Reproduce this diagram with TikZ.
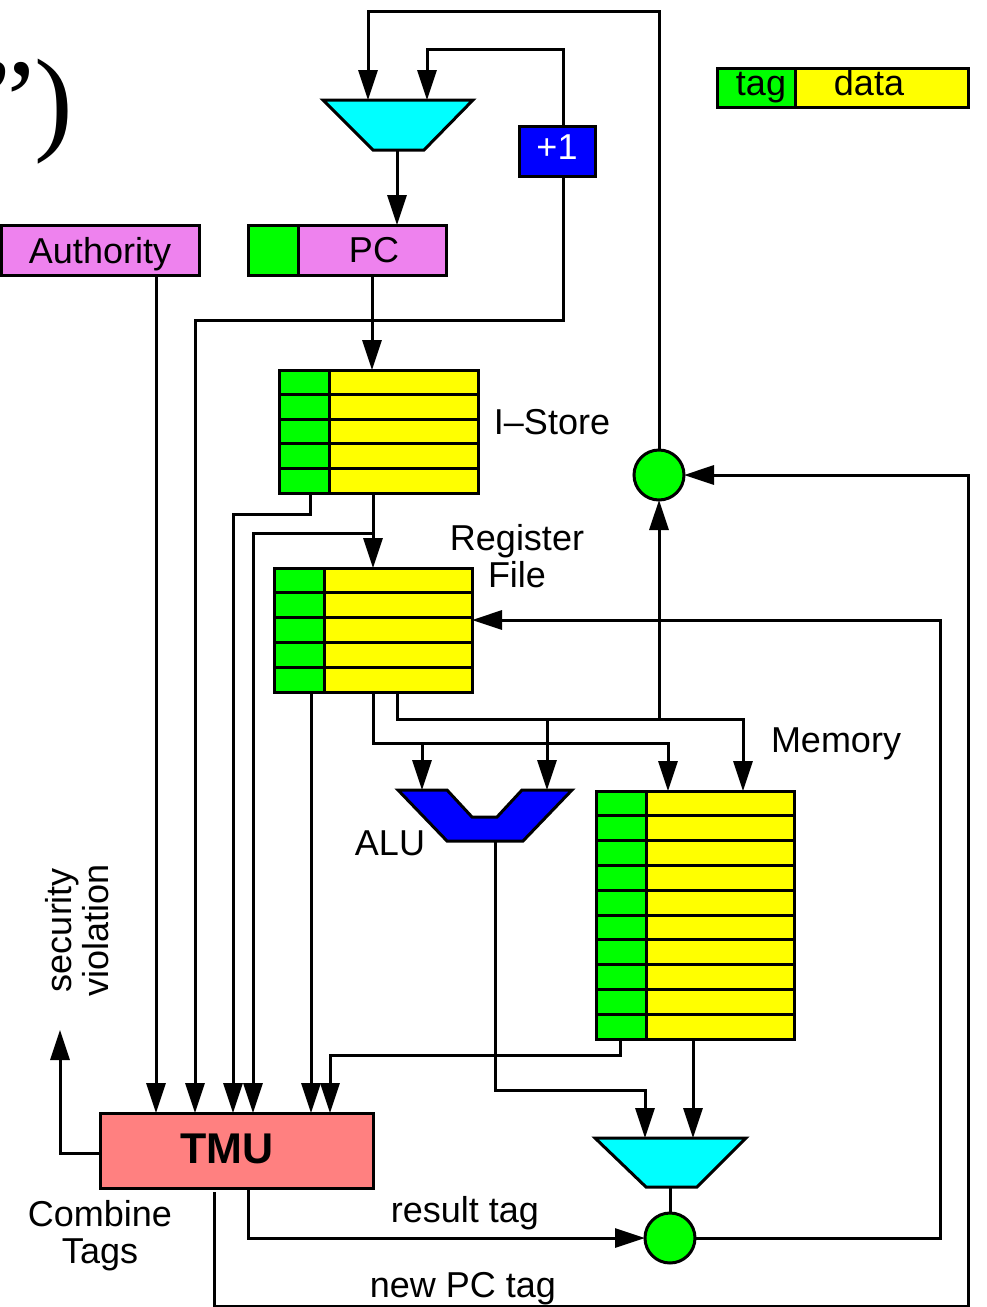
\documentclass[tikz,border=0pt]{standalone}
\usepackage{fontspec}
\setmainfont{Liberation Sans}
\newfontfamily\seriffont{Liberation Serif}
\usetikzlibrary{arrows.meta,calc}
\definecolor{tgreen}{RGB}{0,255,0}
\definecolor{tyellow}{RGB}{255,255,0}
\definecolor{tcyan}{RGB}{0,255,255}
\definecolor{tblue}{RGB}{0,0,255}
\definecolor{tviolet}{RGB}{238,130,238}
\definecolor{tsalmon}{RGB}{255,128,128}
\newcommand{\regarray}[7]{%
  \node[box,fill=tyellow,wh={#4}{#5},anchor=north west] (#1) at (#2,#3) {};
  \node[box,fill=tgreen,wh={#6}{#5},anchor=north west] (#1tag) at (#2,#3) {};
  \foreach \k in {1,...,#7}{\draw[wire] (#2,{#3+\k*#5/(#7+1)}) -- ++(#4,0);}
}
\begin{document}
\begin{tikzpicture}[x=0.5pt,y=-0.5pt,
  wire/.style={line width=1.5pt},
  arr/.style={wire,-{Triangle[length=15pt,width=9.5pt]}},
  box/.style={draw,line width=1.5pt,inner sep=0pt,outer sep=0pt},
  wh/.style 2 args={minimum width=#1*0.5pt,minimum height=#2*0.5pt},
  lbl/.style={font=\fontsize{18}{18.5}\selectfont,inner sep=0pt},
  blbl/.style={lbl,anchor=base},
  dot/.style={circle,draw,line width=1.5pt,fill=tgreen,minimum size=25pt,inner sep=0pt,outer sep=0pt},
]
\useasboundingbox (0,0) rectangle (986,1307);
\clip (0,0) rectangle (986,1307);

% big quote fragment
\node[font=\seriffont\fontsize{58}{60}\selectfont,anchor=base east,inner sep=0pt] (quote) at (74,139) {”)};

% legend
\node[box,fill=tgreen,wh={78}{39},anchor=north west] (ltag) at (717,68) {};
\node[box,fill=tyellow,wh={173}{39},anchor=north west] (ldata) at (795,68) {};
\node[blbl] (ltagtxt) at (761,95) {tag};
\node[blbl] (ldatatxt) at (869,95) {data};

% boxes
\node[box,fill=tviolet,wh={198}{50},anchor=north west] (auth) at (1,225) {};
\node[blbl] (authtxt) at (100,263) {Authority};
\node[box,fill=tgreen,wh={50}{50},anchor=north west] (pctag) at (248,225) {};
\node[box,fill=tviolet,wh={148}{50},anchor=north west] (pc) at (298,225) {};
\node[blbl] (pctxt) at (374,262) {PC};
\node[box,fill=tblue,wh={76}{50},anchor=north west] (inc) at (519,126) {};
\node[blbl,text=white] (inctxt) at (557,159) {+1};
\node[box,fill=tsalmon,wh={273}{75},anchor=north west] (tmu) at (100,1113) {};
\node[anchor=base,inner sep=0pt,font=\bfseries\fontsize{21.5}{22}\selectfont] (tmutxt) at (227,1163) {TMU};

\regarray{istore}{279}{370}{199}{123}{50}{4}
\regarray{regf}{274}{568}{198}{124}{50}{4}
\regarray{mem}{596}{791}{198}{248}{50}{9}

% muxes and ALU
\draw[line width=1.5pt,fill=tcyan] (323,100) -- (473,100) -- (424,150) -- (373,150) -- cycle;
\draw[line width=1.5pt,fill=tcyan] (595,1138) -- (746,1138) -- (697,1187) -- (646,1187) -- cycle;
\draw[line width=1.5pt,fill=tblue] (398,790) -- (447,790) -- (472,817) -- (497,817) -- (522,790) -- (572,790) -- (523,841) -- (447,841) -- cycle;

\node[dot] (c1) at (659,475) {};
\node[dot] (c2) at (670,1238) {};

% ports
\coordinate (muxAin1) at (368,100);
\coordinate (muxAin2) at (427,100);
\coordinate (muxAout) at (397,150);
\coordinate (incx) at (563,0);
\coordinate (t1) at (156,1113);
\coordinate (t2) at (195,1113);
\coordinate (t3) at (233,1113);
\coordinate (t4) at (253,1113);
\coordinate (t5) at (311,1113);
\coordinate (t6) at (330,1113);
\coordinate (isT) at (310,493);
\coordinate (isD) at (373,493);
\coordinate (rfT) at (311,692);
\coordinate (rfD1) at (373,692);
\coordinate (rfD2) at (397,692);
\coordinate (rfIn) at (472,620);
\coordinate (aluL) at (422,790);
\coordinate (aluR) at (547,790);
\coordinate (aluOut) at (495,841);
\coordinate (memIn1) at (668,791);
\coordinate (memIn2) at (743,791);
\coordinate (memT) at (620,1039);
\coordinate (memD) at (693,1039);
\coordinate (muxBin1) at (645,1138);
\coordinate (muxBin2) at (693,1138);
\coordinate (muxBout) at (670,1187);
\coordinate (tmuRes) at (248,1188);
\coordinate (tmuPC) at (214,1192);
\coordinate (tmuSec) at (100,1153);
\coordinate (secTip) at (60,1030);

% wires
\draw[arr] (c1.north) -- (659,11) -| (muxAin1);
\draw[arr] (inc.north -| incx) -- (563,49) -| (muxAin2);
\draw[arr] (muxAout) -- (muxAout |- pc.north);
\draw[arr] (pc.south) -- (pc.south |- istore.north);
\draw[arr] (inc.south -| incx) |- (195,320) -- (t2);
\draw[arr] (auth.south -| t1) -- (t1);
\draw[arr] (isT) -- (310,514) -| (t3);
\draw[arr] (isD) -- (isD |- regf.north);
\draw[arr] (373,533) -| (t4);
\draw[arr] (rfT) -- (t5);
\draw[arr] (rfD1) |- (668,743) -- (memIn1);
\draw[arr] (422,743) -- (aluL);
\draw[arr] (rfD2) |- (743,719) -- (memIn2);
\draw[arr] (547,719) -- (aluR);
\draw[arr] (659,719) -- (c1.south);
\draw[arr] (aluOut) |- (645,1090) -- (muxBin1);
\draw[arr] (memT) |- (330,1055) -- (t6);
\draw[arr] (memD) -- (muxBin2);
\draw[wire] (muxBout) -- (c2.north);
\draw[arr] (c2.east) -| (940,620) -- (rfIn);
\draw[arr] (tmuRes) |- (c2.west);
\draw[arr] (tmuPC) |- (968,1306) |- (c1.east);
\draw[arr] (tmuSec) -| (secTip);

% labels
\node[lbl] (lIstore) at (552,422) {I–Store};
\node[lbl,align=center] (lReg) at (517,556) {Register\\File};
\node[lbl] (lMem) at (836,744) {Memory};
\node[lbl] (lAlu) at (390,843) {ALU};
\node[blbl] (lres) at (465,1222) {result tag};
\node[blbl] (lnpc) at (463,1297) {new PC tag};
\node[lbl,align=center] (lcomb) at (100,1236) {Combine\\Tags};
\node[lbl,align=center,rotate=90] (lsec) at (77,930) {security\\violation};
\end{tikzpicture}
\end{document}
